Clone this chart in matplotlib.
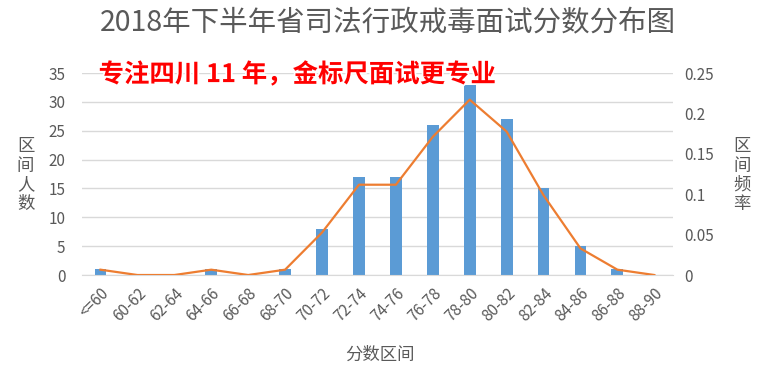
import matplotlib
matplotlib.use("Agg")
import matplotlib.pyplot as plt
import matplotlib.patheffects as pe

plt.rcParams['font.family'] = ['Noto Sans CJK SC', 'DejaVu Sans']

categories = ["<=60", "60-62", "62-64", "64-66", "66-68", "68-70", "70-72", "72-74",
              "74-76", "76-78", "78-80", "80-82", "82-84", "84-86", "86-88", "88-90"]
counts = [1, 0, 0, 1, 0, 1, 8, 17, 17, 26, 33, 27, 15, 5, 1, 0]
freqs = [0.0066, 0, 0, 0.0066, 0, 0.0066, 0.0526, 0.1118, 0.1118, 0.1711,
         0.2171, 0.1776, 0.0987, 0.0329, 0.0066, 0]
left_ticks = [0, 5, 10, 15, 20, 25, 30, 35]
right_ticks = [0, 0.05, 0.1, 0.15, 0.2, 0.25]
right_labels = ["0", "0.05", "0.1", "0.15", "0.2", "0.25"]

title = "2018年下半年省司法行政戒毒面试分数分布图"
banner = "专注四川 11 年，金标尺面试更专业"

gray = "#595959"
fig = plt.figure(figsize=(7.76, 3.73), dpi=100)
ax = fig.add_axes([0.1057, 0.2627, 0.7613, 0.5413])
x = list(range(len(categories)))
ax.bar(x, counts, width=0.32, color="#5B9BD5", zorder=2)
ax.set_xlim(-0.5, len(categories) - 0.5)
ax.set_ylim(0, 35)
ax.set_yticks(left_ticks)
ax.grid(axis="y", color="#D9D9D9", linewidth=1, zorder=0)
ax.set_axisbelow(True)
for s in ["top", "right", "left"]:
    ax.spines[s].set_visible(False)
ax.spines["bottom"].set_color("#D9D9D9")
ax.tick_params(axis="both", length=0, colors=gray, labelsize=11)
ax.tick_params(axis="y", pad=12)
ax.set_xticks(x)
ax.set_xticklabels(categories, rotation=45, ha="right", rotation_mode="anchor")
ax.tick_params(axis="x", pad=7)

ax2 = ax.twinx()
ax2.plot(x, freqs, color="#ED7D31", linewidth=1.6, zorder=3)
ax2.set_ylim(0, 0.25)
ax2.set_yticks(right_ticks)
ax2.set_yticklabels(right_labels)
for s in ["top", "right", "left", "bottom"]:
    ax2.spines[s].set_visible(False)
ax2.tick_params(axis="y", length=0, colors=gray, labelsize=11, pad=8)

fig.text(0.5, 0.94, title, ha="center", va="center", fontsize=20.5, color=gray)
fig.text(0.127, 0.80, banner, ha="left", va="center", fontsize=18.3,
         color="#FF0000", fontweight="black",
         path_effects=[pe.withStroke(linewidth=2.5, foreground="white")])
fig.text(0.033, 0.53, "区\n间\n人\n数", ha="center", va="center", fontsize=12.5,
         color=gray, linespacing=1.1)
fig.text(0.956, 0.53, "区\n间\n频\n率", ha="center", va="center", fontsize=12.5,
         color=gray, linespacing=1.1)
fig.text(0.49, 0.05, "分数区间", ha="center", va="center", fontsize=12.5, color=gray)

fig.savefig("out.png", dpi=100)
